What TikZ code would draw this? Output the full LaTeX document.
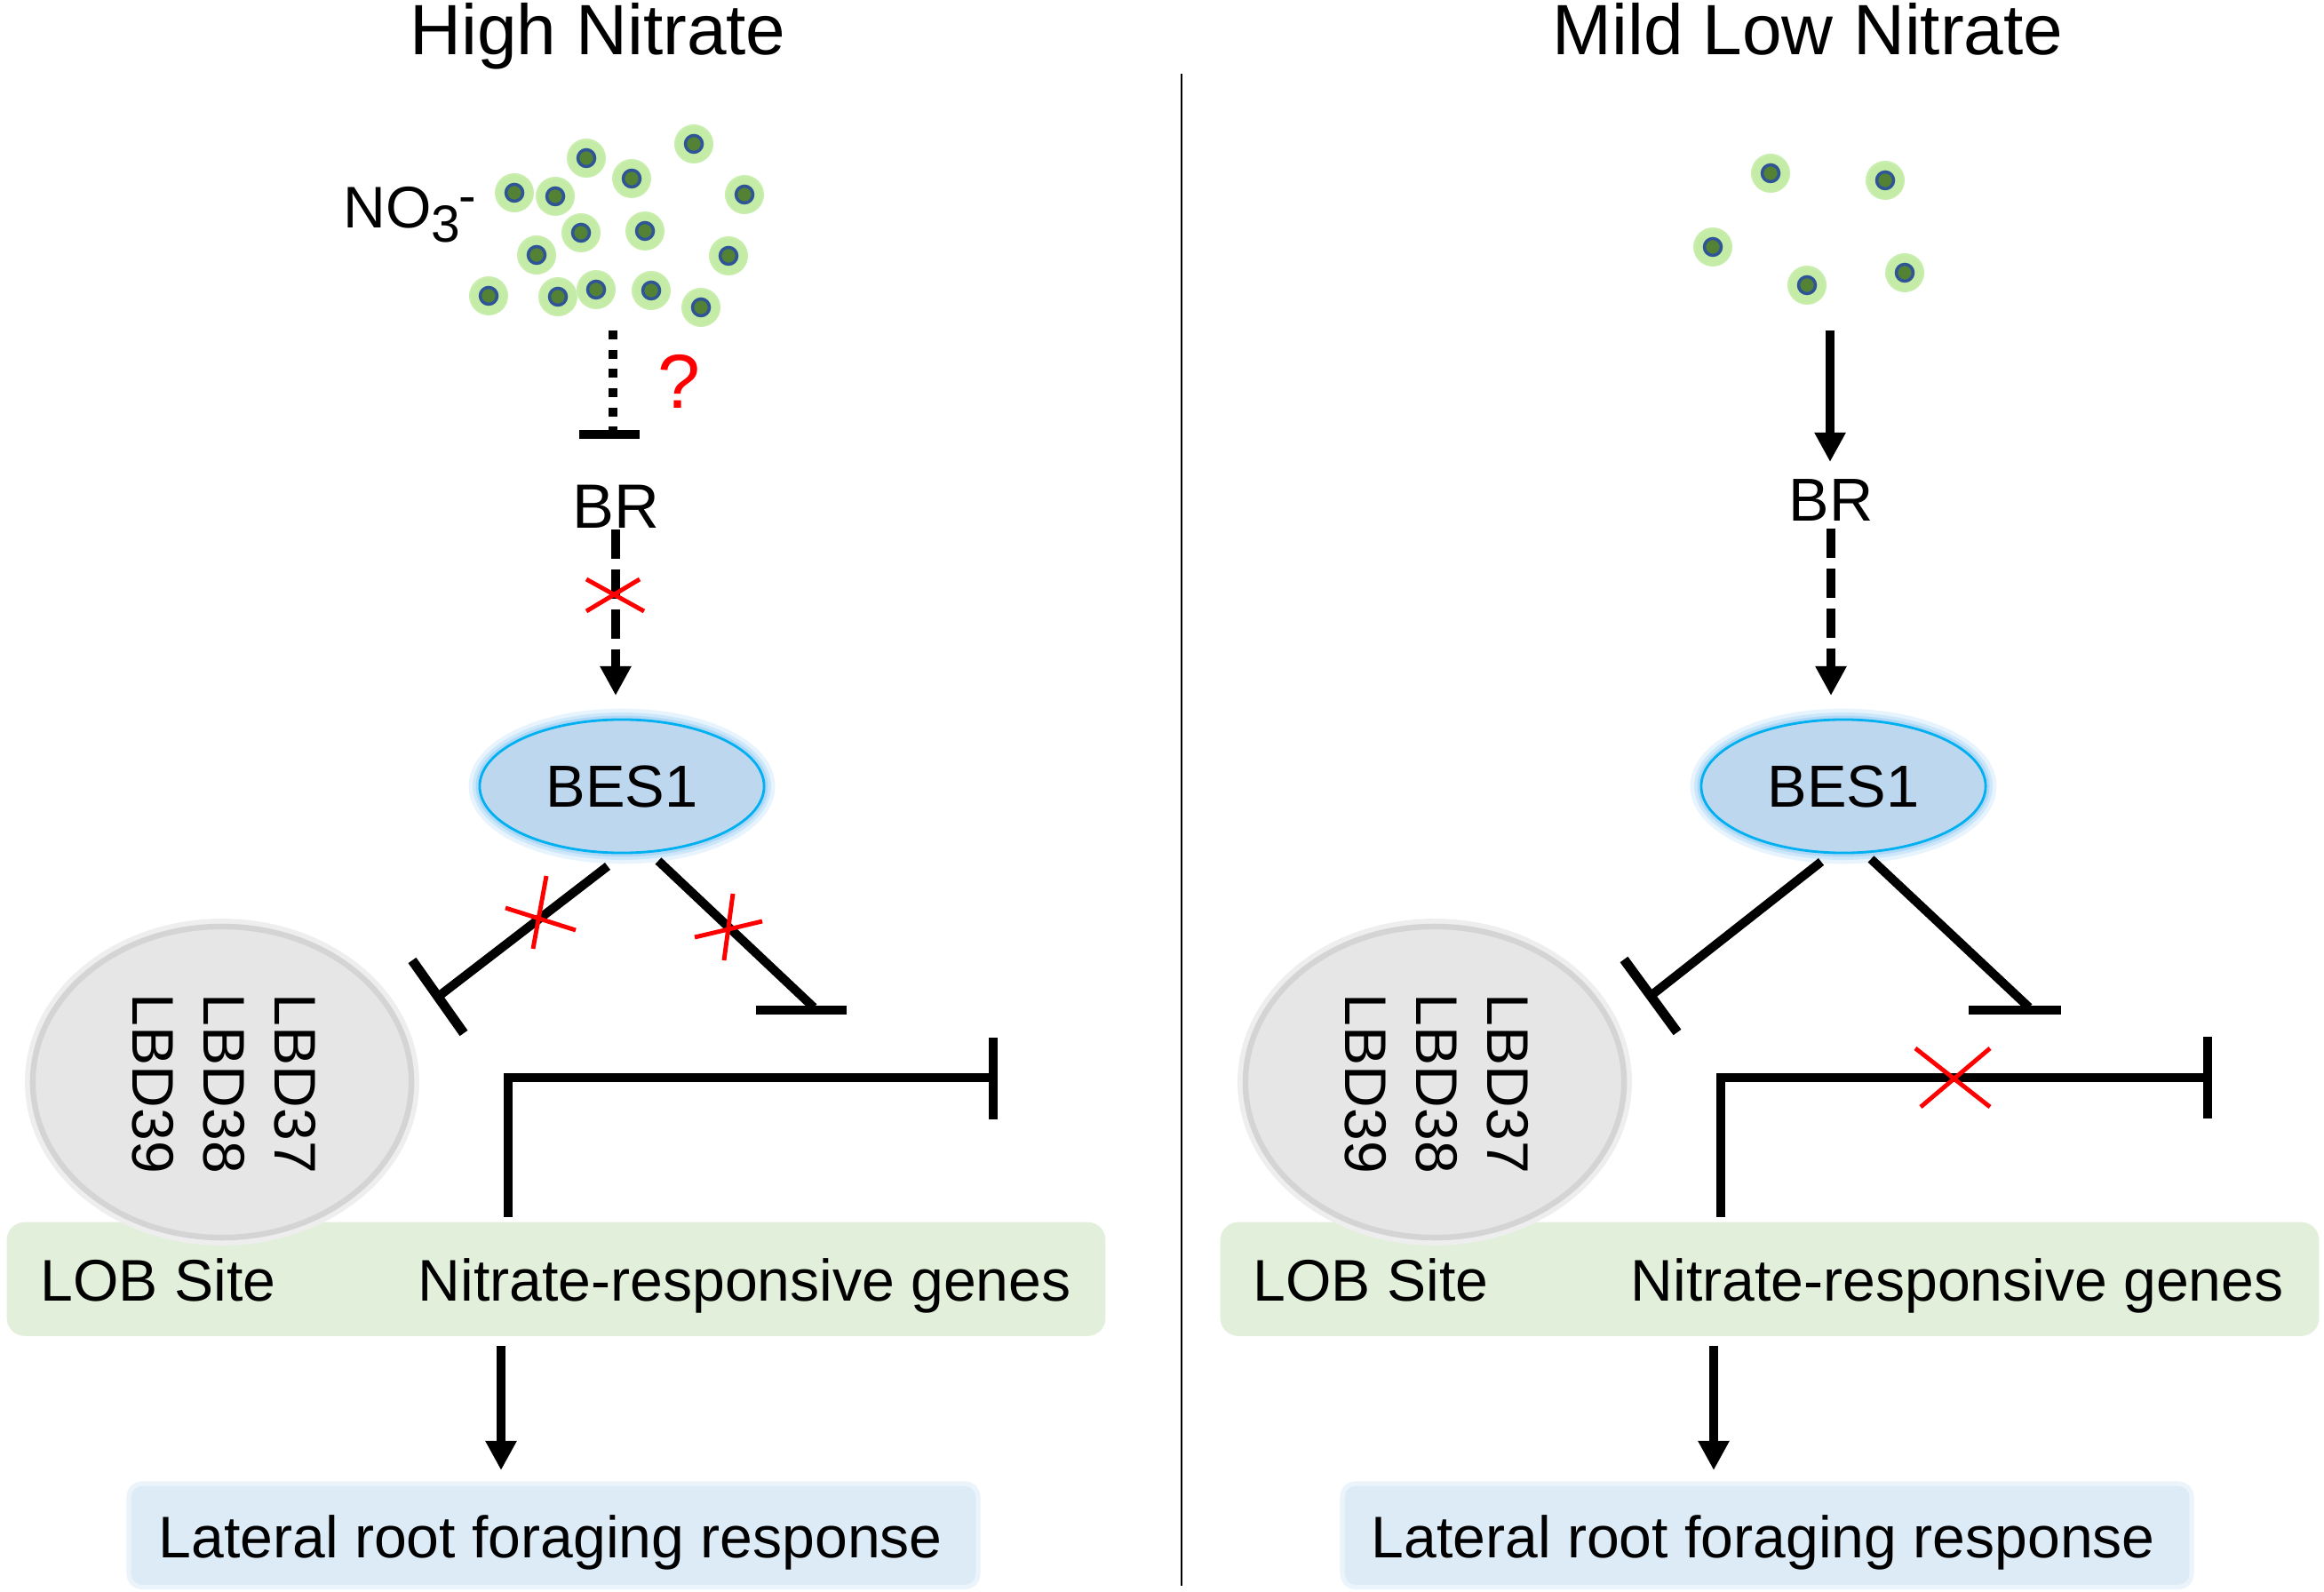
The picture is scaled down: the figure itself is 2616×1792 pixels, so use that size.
\documentclass[tikz,border=0pt]{standalone}
\usepackage{fontspec}
\setmainfont{Liberation Sans}
\usetikzlibrary{arrows.meta,shapes.geometric}
\definecolor{dotgreen}{RGB}{84,130,53}
\definecolor{dotblue}{RGB}{47,85,151}
\definecolor{glowgreen}{RGB}{196,236,166}
\definecolor{besfill}{RGB}{189,215,238}
\definecolor{besline}{RGB}{0,176,240}
\definecolor{glowblue}{RGB}{140,200,245}
\definecolor{lbdfill}{RGB}{230,230,230}
\definecolor{lbdline}{RGB}{212,212,212}
\definecolor{boxgreen}{RGB}{226,239,218}
\definecolor{boxblue}{RGB}{221,235,247}
\definecolor{xred}{RGB}{255,0,0}
\pgfdeclareradialshading{dotglow}{\pgfpoint{0bp}{0bp}}{color(0bp)=(glowgreen); color(22bp)=(glowgreen); color(34bp)=(glowgreen!55!white); color(50bp)=(white)}
\tikzset{
  txt/.style={inner sep=0pt, font=\fontsize{18.8pt}{22.8pt}\selectfont},
  ttl/.style={inner sep=0pt, font=\fontsize{22.8pt}{27pt}\selectfont, anchor=base},
  nitrate/.style={circle, fill=dotgreen, draw=dotblue, line width=1pt, minimum size=0.19cm, inner sep=0pt},
  besnode/.style={ellipse, fill=besfill, draw=besline, line width=0.8pt, minimum width=3.2cm, minimum height=1.5cm, inner sep=0pt, font=\fontsize{19pt}{22pt}\selectfont,
     preaction={draw=glowblue, line width=7pt, opacity=0.2},
     preaction={draw=glowblue, line width=4.5pt, opacity=0.3},
     preaction={draw=glowblue, line width=2.5pt, opacity=0.45}},
  lbdnode/.style={ellipse, fill=lbdfill, draw=lbdline, line width=1.8pt, minimum width=4.26cm, minimum height=3.5cm, inner sep=0pt,
     preaction={draw=lbdline!40!white, line width=5pt}},
  lbdtext/.style={inner sep=0pt, rotate=-90, align=center, font=\fontsize{18.8pt}{22.8pt}\selectfont},
  genebox/.style={rectangle, rounded corners=0.2cm, fill=boxgreen, minimum width=12.36cm, minimum height=1.28cm, anchor=north west, inner sep=0pt},
  lrfbox/.style={rectangle, rounded corners=0.12cm, fill=boxblue, minimum width=9.5cm, minimum height=1.11cm, anchor=north west, inner sep=0pt,
     preaction={draw=boxblue!55!white, line width=3pt}},
  arr/.style={line width=3.1pt, -{Triangle[width=9.4pt,length=9.4pt]}},
  darr/.style={arr, dash pattern=on 9.4pt off 3.4pt},
  inh/.style={line width=2.85pt},
  barline/.style={line width=3.1pt},
  dotinh/.style={line width=2.85pt, dash pattern=on 2.85pt off 3.3pt},
  redx/.style={draw=xred, line width=1.4pt},
}
\begin{document}
\begin{tikzpicture}[x=0.01cm,y=-0.01cm]
\useasboundingbox[fill=white] (0,0) rectangle (2616,1792);

% ---------- titles and divider ----------
\node[ttl] (titleL) at (673,62) {High Nitrate};
\node[ttl] (titleR) at (2035,62) {Mild Low Nitrate};
\coordinate (divtop) at (1330,83);
\coordinate (divbot) at (1330,1785);
\draw[line width=0.7pt] (divtop) -- (divbot);

% ---------- LEFT PANEL ----------
\node[txt, anchor=base west] (no3) at (386,257) {NO\raisebox{-4.3pt}{\fontsize{16.7pt}{18pt}\selectfont 3}\kern-0.6pt\raisebox{4.6pt}{\fontsize{16.7pt}{18pt}\selectfont -}};
\foreach \px/\py [count=\i] in {660/178,781/162,711/201,579/217,625/221,838/219,654/262,726/260,604/287,820/288,550/333,628/334,671/326,733/327,789/346}{
  \shade[shading=dotglow] (\px,\py) circle[radius=0.22cm];
  \node[nitrate] (nL\i) at (\px,\py) {};
}
\coordinate (dinhTop) at (690,372);
\coordinate (dinhEnd) at (690,484);
\coordinate (dbarA) at (652,489);
\coordinate (dbarB) at (720,489);
\draw[dotinh] (dinhTop) -- (dinhEnd);
\draw[barline] (dbarA) -- (dbarB);
\node[inner sep=0pt, anchor=base, text=xred, font=\fontsize{24.5pt}{28pt}\selectfont] (qmark) at (764,460) {?};

\node[txt, anchor=base, font=\fontsize{20pt}{24pt}\selectfont] (brL) at (693,595) {BR};
\coordinate (brLend) at (693,783);
\draw[darr] (brL.south) -- (brLend);
\draw[redx] (660,652) -- (725,688);
\draw[redx] (720,652) -- (660,688);

\node[besnode] (bes1L) at (700,885) {BES1};

\coordinate (iL1s) at (684,975);
\coordinate (iL1e) at (493,1122);
\coordinate (iL1a) at (464,1081);
\coordinate (iL1b) at (522,1163);
\draw[inh] (iL1s) -- (iL1e);
\draw[barline] (iL1a) -- (iL1b);
\coordinate (iL2s) at (741,969);
\coordinate (iL2e) at (916,1134);
\coordinate (iL2a) at (851,1137);
\coordinate (iL2b) at (953,1137);
\draw[inh] (iL2s) -- (iL2e);
\draw[barline] (iL2a) -- (iL2b);
\draw[redx] (615,986) -- (600,1068);
\draw[redx] (569,1022) -- (648,1047);
\draw[redx] (825,1006) -- (815,1081);
\draw[redx] (782,1055) -- (858,1037);

\node[genebox] (geneL) at (7,1375) {};
\node[lbdnode] (lbdL) at (250,1218) {};
\node[lbdtext] (lbdtL) at (252,1220) {LBD37\\LBD38\\LBD39};

\coordinate (lgL0) at (572,1365);
\coordinate (lgL1) at (1118,1213);
\coordinate (lgLa) at (1118,1168);
\coordinate (lgLb) at (1118,1260);
\draw[inh, line cap=rect] (lgL0) |- (lgL1);
\draw[barline] (lgLa) -- (lgLb);

\node[txt, anchor=base west] (lobL) at (45,1464) {LOB Site};
\node[txt, anchor=base west] (nrgL) at (470,1464) {Nitrate-responsive genes};

\node[lrfbox] (lrfL) at (147,1672) {};
\node[txt, anchor=base west] (lrftL) at (178,1753) {Lateral root foraging response};
\coordinate (aL0) at (564,1515);
\coordinate (aL1) at (564,1655);
\draw[arr] (aL0) -- (aL1);

% ---------- RIGHT PANEL ----------
\foreach \px/\py [count=\i] in {1993/195,2122/203,1928/278,2034/321,2144/307}{
  \shade[shading=dotglow] (\px,\py) circle[radius=0.22cm];
  \node[nitrate] (nR\i) at (\px,\py) {};
}
\coordinate (aRtop) at (2060,372);
\coordinate (aRend) at (2060,520);
\draw[arr] (aRtop) -- (aRend);

\node[txt, anchor=base, font=\fontsize{19.4pt}{23pt}\selectfont] (brR) at (2061,587) {BR};
\coordinate (brRend) at (2061,783);
\draw[darr] ([yshift=-2pt]brR.south) -- (brRend);

\node[besnode] (bes1R) at (2075,885) {BES1};

\coordinate (iR1s) at (2050,970);
\coordinate (iR1e) at (1858,1121);
\coordinate (iR1a) at (1828,1080);
\coordinate (iR1b) at (1888,1162);
\draw[inh] (iR1s) -- (iR1e);
\draw[barline] (iR1a) -- (iR1b);
\coordinate (iR2s) at (2106,967);
\coordinate (iR2e) at (2284,1134);
\coordinate (iR2a) at (2216,1137);
\coordinate (iR2b) at (2320,1137);
\draw[inh] (iR2s) -- (iR2e);
\draw[barline] (iR2a) -- (iR2b);

\node[genebox] (geneR) at (1373,1375) {};
\node[lbdnode] (lbdR) at (1615,1218) {};
\node[lbdtext] (lbdtR) at (1617,1220) {LBD37\\LBD38\\LBD39};

\coordinate (lgR0) at (1937,1365);
\coordinate (lgR1) at (2485,1213);
\coordinate (lgRa) at (2485,1167);
\coordinate (lgRb) at (2485,1259);
\draw[inh, line cap=rect] (lgR0) |- (lgR1);
\draw[barline] (lgRa) -- (lgRb);
\draw[redx] (2156,1180) -- (2240,1246);
\draw[redx] (2240,1180) -- (2162,1246);

\node[txt, anchor=base west] (lobR) at (1410,1464) {LOB Site};
\node[txt, anchor=base west] (nrgR) at (1835,1464) {Nitrate-responsive genes};

\node[lrfbox] (lrfR) at (1513,1672) {};
\node[txt, anchor=base west] (lrftR) at (1543,1753) {Lateral root foraging response};
\coordinate (aR0) at (1929,1515);
\coordinate (aR1) at (1929,1655);
\draw[arr] (aR0) -- (aR1);
\end{tikzpicture}
\end{document}
